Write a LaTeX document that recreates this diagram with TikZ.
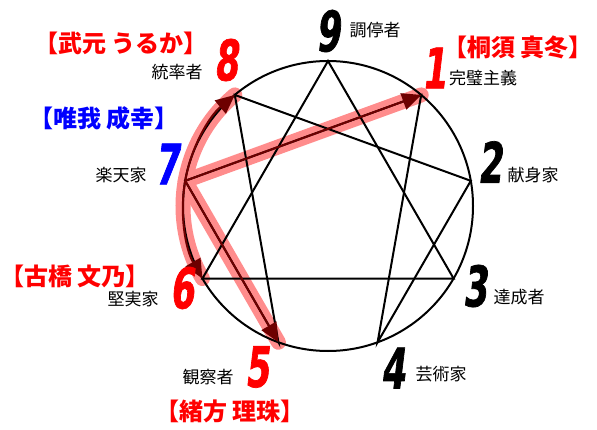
\documentclass[tikz,border=0pt]{standalone}
\usepackage{fontspec}
\newfontfamily\jp{Noto Sans CJK JP}
\newfontfamily\numfont{DejaVu Sans}[FakeStretch=0.62,FakeSlant=0.12,FakeBold=1.2]
\usetikzlibrary{arrows.meta}
\definecolor{hilite}{RGB}{255,140,140}
\definecolor{deepred}{RGB}{110,0,0}

\begin{document}
\begin{tikzpicture}[x=1pt,y=1pt,
  num/.style={font=\numfont\bfseries\fontsize{56}{56}\selectfont, inner sep=0pt},
  role/.style={font=\jp\fontsize{17}{17}\selectfont, inner sep=0pt},
  who/.style={font=\jp\bfseries\fontsize{24}{24}\selectfont, inner sep=0pt, red},
  enn/.style={line width=2pt},
  band/.style={hilite, line width=15pt, line cap=round, line join=round},
  move/.style={deepred, line width=2pt, -{Triangle[length=19pt,width=17pt]}}]
\useasboundingbox (0,0) rectangle (597,429);
\coordinate (c) at (328,223);
\foreach \i in {1,...,9} \path (c) ++({90-40*\i}:145) coordinate (p\i);
% highlight
\draw[band] (p8) arc[start angle=130, end angle=210, radius=145];
\draw[band] (p1) -- (p7) -- (p5);
% enneagram
\draw[enn] (c) circle[radius=145];
\draw[enn] (p1) -- (p4) -- (p2) -- (p8) -- (p5) -- (p7) -- cycle;
\draw[enn] (p9) -- (p3) -- (p6) -- cycle;
% arrows from 7
\draw[move] (p7) arc[start angle=170, end angle=130, radius=145];
\draw[move] (p7) arc[start angle=170, end angle=210, radius=145];
\draw[move] (p7) -- (p1);
\draw[move] (p7) -- (p5);
% numbers
\node[num] (n9) at (328,398) {9};
\node[num,red] (n1) at (434,361) {1};
\node[num] (n2) at (490,267) {2};
\node[num] (n3) at (475,143) {3};
\node[num] (n4) at (393,61) {4};
\node[num,red] (n5) at (257,62) {5};
\node[num,red] (n6) at (182,141) {6};
\node[num,blue] (n7) at (167,265) {7};
\node[num,red] (n8) at (226,369) {8};
% types
\node[role] (t9) at (375,399) {調停者};
\node[role] (t1) at (483,351) {完璧主義};
\node[role] (t2) at (533,254) {献身家};
\node[role] (t3) at (519,132) {達成者};
\node[role] (t4) at (441,55) {芸術家};
\node[role] (t5) at (208,52) {観察者};
\node[role] (t6) at (133,130) {堅実家};
\node[role] (t7) at (121,254) {楽天家};
\node[role] (t8) at (177,357) {統率者};
% names
\node[who] (w1) at (518,382) {【桐須 真冬】};
\node[who] (w5) at (230,18) {【緒方 理珠】};
\node[who] (w6) at (75,153) {【古橋 文乃】};
\node[who,blue] (w7) at (104,311) {【唯我 成幸】};
\node[who] (w8) at (121,386) {【武元 うるか】};
\end{tikzpicture}
\end{document}
